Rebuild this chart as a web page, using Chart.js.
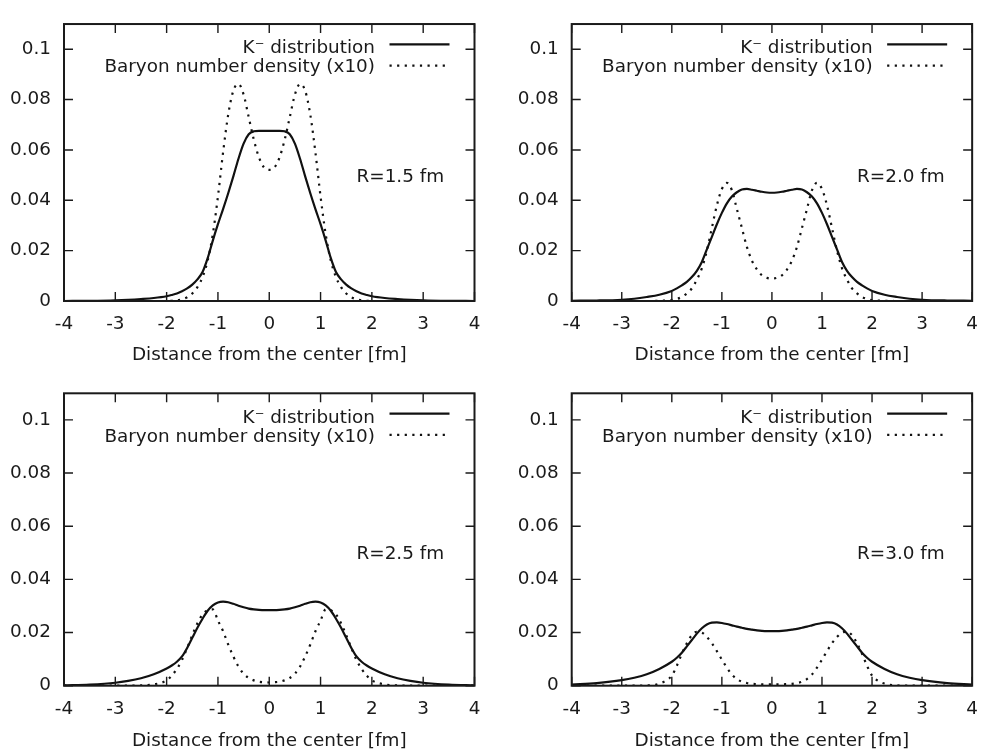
<!DOCTYPE html>
<html>
<head>
<meta charset="utf-8">
<script src="https://cdn.jsdelivr.net/npm/chart.js@4.4.0/dist/chart.umd.min.js"></script>
<style>
html,body{margin:0;padding:0;background:#fff;overflow:hidden;width:990px;height:751px;}
canvas{position:absolute;left:0;top:0;}
</style>
</head>
<body>
<canvas id="c1" width="990" height="751"></canvas>
<canvas id="c2" width="990" height="751"></canvas>
<canvas id="c3" width="990" height="751"></canvas>
<canvas id="c4" width="990" height="751"></canvas>
<script>
// ---- data ----
const xPositions = [-4,-3.5,-3,-2.75,-2.5,-2.25,-2.0,-1.9,-1.8,-1.7,-1.6,-1.5,-1.4,-1.3,-1.2,-1.1,-1.0,-0.9,-0.8,-0.7,-0.6,-0.5,-0.4,-0.3,-0.2,-0.1,0,
  0.1,0.2,0.3,0.4,0.5,0.6,0.7,0.8,0.9,1.0,1.1,1.2,1.3,1.4,1.5,1.6,1.7,1.8,1.9,2.0,2.25,2.5,2.75,3,3.5,4];

const kMinusR15 = [0.0000,0.0001,0.0003,0.0005,0.0008,0.0012,0.0019,0.0024,0.0030,0.0039,0.0050,0.0065,0.0086,0.0115,0.0170,0.0240,0.0305,0.0365,0.0428,0.0495,0.0565,0.0625,0.0662,0.0674,0.0676,0.0676,0.0676,
  0.0676,0.0676,0.0674,0.0662,0.0625,0.0565,0.0495,0.0428,0.0365,0.0305,0.0240,0.0170,0.0115,0.0086,0.0065,0.0050,0.0039,0.0030,0.0024,0.0019,0.0012,0.0008,0.0005,0.0003,0.0001,0.0000];
const baryonR15 = [0,0,0,0,0,0,0.0000,0.0001,0.0003,0.0007,0.0015,0.0030,0.0055,0.0095,0.0160,0.0265,0.0415,0.0590,0.0740,0.0835,0.0862,0.0820,0.0730,0.0640,0.0570,0.0530,0.0521,
  0.0530,0.0570,0.0640,0.0730,0.0820,0.0862,0.0835,0.0740,0.0590,0.0415,0.0265,0.0160,0.0095,0.0055,0.0030,0.0015,0.0007,0.0003,0.0001,0.0000,0,0,0,0,0,0];

const kMinusR20 = [0.0001,0.0002,0.0005,0.0009,0.0016,0.0025,0.0040,0.0050,0.0062,0.0076,0.0095,0.0120,0.0155,0.0205,0.0255,0.0305,0.0350,0.0388,0.0415,0.0432,0.0443,0.0445,0.0442,0.0438,0.0434,0.0431,0.0430,
  0.0431,0.0434,0.0438,0.0442,0.0445,0.0443,0.0432,0.0415,0.0388,0.0350,0.0305,0.0255,0.0205,0.0155,0.0120,0.0095,0.0076,0.0062,0.0050,0.0040,0.0025,0.0016,0.0009,0.0005,0.0002,0.0001];
const baryonR20 = [0,0,0,0,0,0.0001,0.0004,0.0008,0.0016,0.0030,0.0050,0.0085,0.0130,0.0200,0.0290,0.0380,0.0445,0.0469,0.0440,0.0365,0.0290,0.0215,0.0160,0.0125,0.0102,0.0092,0.0089,
  0.0092,0.0102,0.0125,0.0160,0.0215,0.0290,0.0365,0.0440,0.0469,0.0445,0.0380,0.0290,0.0200,0.0130,0.0085,0.0050,0.0030,0.0016,0.0008,0.0004,0.0001,0,0,0,0,0];

const kMinusR25 = [0.0001,0.0004,0.0011,0.0018,0.0028,0.0043,0.0065,0.0076,0.0090,0.0110,0.0142,0.0180,0.0218,0.0252,0.0282,0.0302,0.0313,0.0316,0.0314,0.0308,0.0301,0.0295,0.0290,0.0287,0.0285,0.0284,0.0284,
  0.0284,0.0285,0.0287,0.0290,0.0295,0.0301,0.0308,0.0314,0.0316,0.0313,0.0302,0.0282,0.0252,0.0218,0.0180,0.0142,0.0110,0.0090,0.0076,0.0065,0.0043,0.0028,0.0018,0.0011,0.0004,0.0001];
const baryonR25 = [0,0,0,0,0.0001,0.0005,0.0020,0.0038,0.0063,0.0097,0.0142,0.0190,0.0235,0.0268,0.0284,0.0287,0.0245,0.0205,0.0155,0.0110,0.0072,0.0045,0.0029,0.0020,0.0015,0.0013,0.0012,
  0.0013,0.0015,0.0020,0.0029,0.0045,0.0072,0.0110,0.0155,0.0205,0.0245,0.0287,0.0284,0.0268,0.0235,0.0190,0.0142,0.0097,0.0063,0.0038,0.0020,0.0005,0.0001,0,0,0,0];

const kMinusR30 = [0.0004,0.0010,0.0021,0.0030,0.0043,0.0063,0.0090,0.0105,0.0124,0.0148,0.0172,0.0196,0.0216,0.0230,0.0237,0.0238,0.0236,0.0232,0.0227,0.0222,0.0218,0.0214,0.0211,0.0208,0.0206,0.0205,0.0205,
  0.0205,0.0206,0.0208,0.0211,0.0214,0.0218,0.0222,0.0227,0.0232,0.0236,0.0238,0.0237,0.0230,0.0216,0.0196,0.0172,0.0148,0.0124,0.0105,0.0090,0.0063,0.0043,0.0030,0.0021,0.0010,0.0004];
const baryonR30 = [0,0,0,0,0.0001,0.0008,0.0038,0.0075,0.0120,0.0160,0.0190,0.0203,0.0200,0.0183,0.0160,0.0130,0.0098,0.0068,0.0042,0.0025,0.0015,0.0010,0.0007,0.0006,0.0005,0.0005,0.0005,
  0.0005,0.0005,0.0006,0.0007,0.0010,0.0015,0.0025,0.0042,0.0068,0.0098,0.0130,0.0160,0.0183,0.0200,0.0203,0.0190,0.0160,0.0120,0.0075,0.0038,0.0008,0.0001,0,0,0,0];

const panelLabels = ['R=1.5 fm','R=2.0 fm','R=2.5 fm','R=3.0 fm'];
const seriesNames = ['K\u207B distribution','Baryon number density (x10)'];
const xAxisTitle = 'Distance from the center [fm]';
const yTickValues = [0,0.02,0.04,0.06,0.08,0.1];
const xTickValues = [-4,-3,-2,-1,0,1,2,3,4];

// ---- rendering ----
const FONT = "'DejaVu Sans', sans-serif";
const FS = 18.4;
const INK = '#1a1a1a';
Chart.defaults.font.family = FONT;
Chart.defaults.font.size = FS;
Chart.defaults.color = INK;

const gnuplotLook = {
  id: 'gnuplotLook',
  afterDraw(chart, args, opts) {
    const {ctx, chartArea: a, scales: {x, y}} = chart;
    ctx.save();
    // tick marks pointing inward, mirrored on all sides
    const tl = 9;
    ctx.strokeStyle = INK;
    ctx.lineWidth = 1.4;
    ctx.beginPath();
    x.ticks.forEach(t => {
      const px = x.getPixelForValue(t.value);
      ctx.moveTo(px, a.bottom); ctx.lineTo(px, a.bottom - tl);
      ctx.moveTo(px, a.top); ctx.lineTo(px, a.top + tl);
    });
    y.ticks.forEach(t => {
      const py = y.getPixelForValue(t.value);
      ctx.moveTo(a.left, py); ctx.lineTo(a.left + tl, py);
      ctx.moveTo(a.right, py); ctx.lineTo(a.right - tl, py);
    });
    ctx.stroke();
    // frame
    ctx.lineWidth = 2;
    ctx.strokeRect(a.left, a.top, a.right - a.left, a.bottom - a.top);

    // key (legend) in top-right corner
    ctx.font = FS + 'px ' + FONT;
    ctx.fillStyle = INK;
    ctx.textAlign = 'right';
    ctx.textBaseline = 'alphabetic';
    const rows = [{ly: 20.4, by: 29.4}, {ly: 41.5, by: 48.4}];
    chart.data.datasets.forEach((ds, i) => {
      const r = rows[i];
      ctx.fillText(ds.label, a.right - 99.5, a.top + r.by);
      ctx.save();
      ctx.strokeStyle = ds.borderColor;
      ctx.lineWidth = ds.borderWidth;
      ctx.setLineDash(ds.borderDash || []);
      ctx.beginPath();
      ctx.moveTo(a.right - 85, a.top + r.ly);
      ctx.lineTo(a.right - 25, a.top + r.ly);
      ctx.stroke();
      ctx.restore();
    });

    // panel label
    ctx.textAlign = 'left';
    ctx.fillText(opts.text, x.getPixelForValue(1.7), y.getPixelForValue(0.05) + 0.36 * FS);
    ctx.restore();
  }
};

const panels = [
  {id: 'c1', k: kMinusR15, b: baryonR15, label: panelLabels[0], L: 64,    R: 474.5, T: 7.3,   B: 301,   Tc: 355},
  {id: 'c2', k: kMinusR20, b: baryonR20, label: panelLabels[1], L: 571.7, R: 982.3, T: 7.3,   B: 301,   Tc: 355},
  {id: 'c3', k: kMinusR25, b: baryonR25, label: panelLabels[2], L: 64,    R: 474.5, T: 393.3, B: 685.7, Tc: 741},
  {id: 'c4', k: kMinusR30, b: baryonR30, label: panelLabels[3], L: 571.7, R: 982.3, T: 393.3, B: 685.7, Tc: 741},
];

const Y_AXIS_W = 64;
const TITLE_HALF = FS / 2;

panels.forEach(p => {
  const xBottom = p.Tc + TITLE_HALF;
  new Chart(document.getElementById(p.id), {
    type: 'line',
    data: {
      datasets: [
        {
          label: seriesNames[0],
          data: xPositions.map((xv, i) => ({x: xv, y: p.k[i]})),
          borderColor: '#111', borderWidth: 2.2, pointRadius: 0,
          cubicInterpolationMode: 'monotone', fill: false
        },
        {
          label: seriesNames[1],
          data: xPositions.map((xv, i) => ({x: xv, y: p.b[i]})),
          borderColor: '#111', borderWidth: 2.2, borderDash: [2.2, 5.4], pointRadius: 0,
          cubicInterpolationMode: 'monotone', fill: false
        }
      ]
    },
    options: {
      responsive: false,
      animation: false,
      events: [],
      layout: {
        autoPadding: false,
        padding: {left: p.L - Y_AXIS_W, right: 990 - p.R, top: p.T, bottom: 751 - xBottom}
      },
      plugins: {
        legend: {display: false},
        tooltip: {enabled: false},
        gnuplotLook: {text: p.label}
      },
      scales: {
        x: {
          type: 'linear', min: -4, max: 4,
          grid: {display: false, drawTicks: false},
          border: {display: false},
          afterBuildTicks: s => { s.ticks = xTickValues.map(v => ({value: v})); },
          afterFit: s => { s.height = xBottom - p.B; },
          ticks: {padding: 12, maxRotation: 0, autoSkip: false, callback: v => String(v)},
          title: {display: true, text: xAxisTitle, font: {size: FS, lineHeight: 1}, padding: {top: 0, bottom: 0}}
        },
        y: {
          type: 'linear', min: 0, max: 0.11,
          grid: {display: false, drawTicks: false},
          border: {display: false},
          afterBuildTicks: s => { s.ticks = yTickValues.map(v => ({value: v})); },
          afterFit: s => { s.width = Y_AXIS_W; },
          ticks: {padding: 13, autoSkip: false, callback: v => String(+Number(v).toFixed(2))}
        }
      }
    },
    plugins: [gnuplotLook]
  });
});
</script>
</body>
</html>
